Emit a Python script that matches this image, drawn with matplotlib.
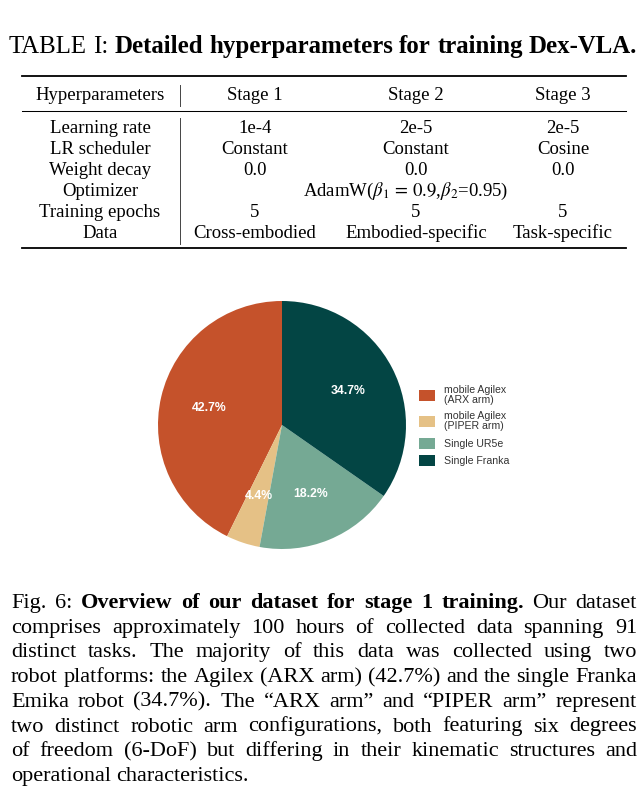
import matplotlib.pyplot as plt
from matplotlib.lines import Line2D

plt.rcParams['mathtext.fontset'] = 'stix'

W, H = 643, 795

# ---- data ----
table_header = ['Hyperparameters', 'Stage 1', 'Stage 2', 'Stage 3']
param_names = ['Learning rate', 'LR scheduler', 'Weight decay', 'Optimizer',
               'Training epochs', 'Data']
stage1 = ['1e-4', 'Constant', '0.0', None, '5', 'Cross-embodied']
stage2 = ['2e-5', 'Constant', '0.0', None, '5', 'Embodied-specific']
stage3 = ['2e-5', 'Cosine', '0.0', None, '5', 'Task-specific']
optimizer_all = r'AdamW($\beta_1\,=\,0.9$,$\beta_2$=0.95)'

platforms = ['mobile Agilex\n(ARX arm)', 'mobile Agilex\n(PIPER arm)',
             'Single UR5e', 'Single Franka']
shares = [42.7, 4.4, 18.2, 34.7]
pie_colors = ['#C5522B', '#E5C186', '#75A994', '#034544']

title_parts = [('TABLE I:', 'normal'),
               ('Detailed hyperparameters for training Dex-VLA.', 'bold')]

caption_lines = [
    [('Fig. 6:', 'normal'), ('Overview of our dataset for stage 1 training.', 'bold'),
     ('Our dataset', 'normal')],
    [('comprises approximately 100 hours of collected data spanning 91', 'normal')],
    [('distinct tasks. The majority of this data was collected using two', 'normal')],
    [('robot platforms: the Agilex (ARX arm) (42.7%) and the single Franka', 'normal')],
    [('Emika robot (34.7%). The \u201cARX arm\u201d and \u201cPIPER arm\u201d represent', 'normal')],
    [('two distinct robotic arm configurations, both featuring six degrees', 'normal')],
    [('of freedom (6-DoF) but differing in their kinematic structures and', 'normal')],
    [('operational characteristics.', 'normal')],
]


def fx(x):
    return x / W


def fy(y):
    return 1 - y / H


fig = plt.figure(figsize=(W / 100, H / 100), dpi=100)
renderer = fig.canvas.get_renderer()
serif = 'Liberation Serif'


def place_words(segments, y, x0, x1, size, justify=True, center=None):
    words = []
    for text, weight in segments:
        for w in text.split():
            words.append(fig.text(0, fy(y), w, fontsize=size, fontweight=weight,
                                  family=serif, va='baseline', ha='left'))
    widths = [t.get_window_extent(renderer).width for t in words]
    if justify:
        gap = (x1 - x0 - sum(widths)) / (len(words) - 1)
    else:
        gap = 0.25 * size / 0.72
    if center is not None:
        x0 = center - (sum(widths) + gap * (len(words) - 1)) / 2
    x = x0
    for t, w in zip(words, widths):
        t.set_x(fx(x))
        x += w + gap


# ---- title ----
place_words(title_parts, 53, 11, 635, 17.9, justify=False, center=323)

# ---- table ----
tsize = 13.5
col_x = [100, 255, 416, 563]
for x, h in zip(col_x, table_header):
    fig.text(fx(x), fy(100), h, fontsize=tsize, family=serif, ha='center', va='baseline')

row_y = [133, 154, 175, 196, 217, 238]
for i, y in enumerate(row_y):
    fig.text(fx(col_x[0]), fy(y), param_names[i], fontsize=tsize, family=serif,
             ha='center', va='baseline')
    vals = [stage1[i], stage2[i], stage3[i]]
    if all(v is None for v in vals):
        fig.text(fx(406), fy(y), optimizer_all, fontsize=tsize, family=serif,
                 ha='center', va='baseline')
        continue
    for x, v in zip(col_x[1:], vals):
        fig.text(fx(x), fy(y), v, fontsize=tsize, family=serif, ha='center', va='baseline')

for y, lw in [(76, 1.3), (111, 0.75), (248, 1.3)]:
    fig.add_artist(Line2D([fx(22), fx(626)], [fy(y), fy(y)], color='black', lw=lw))
for y0, y1 in [(85, 106), (118, 244)]:
    fig.add_artist(Line2D([fx(180), fx(180)], [fy(y0), fy(y1)], color='#444444', lw=0.7))

# ---- pie ----
cx, cy, r = 282, 425, 124
ax = fig.add_axes([fx(cx - r), fy(cy + r), 2 * r / W, 2 * r / H])
wedges, _, autotexts = ax.pie(
    shares, colors=pie_colors, startangle=90, counterclock=True,
    autopct='%1.1f%%', pctdistance=0.6,
    textprops=dict(color='white', fontweight='bold', fontsize=8.8,
                   family='Liberation Sans'))
ax.set_xlim(-1, 1)
ax.set_ylim(-1, 1)

leg = fig.legend(wedges, platforms, loc='upper left',
                 bbox_to_anchor=(fx(419), fy(385)), frameon=False, borderpad=0,
                 borderaxespad=0, handlelength=1.55, handleheight=1.25,
                 handletextpad=0.8, labelspacing=0.6,
                 prop=dict(family='Liberation Sans', size=7.6))
for t in leg.get_texts():
    t.set_linespacing(1.0)
    t.set_color('#333333')

# ---- caption ----
csize = 16
for i, seg in enumerate(caption_lines):
    last = i == len(caption_lines) - 1
    place_words(seg, 608 + 24.7 * i, 11, 637, csize, justify=not last)

fig.savefig('out.png', dpi=100)
